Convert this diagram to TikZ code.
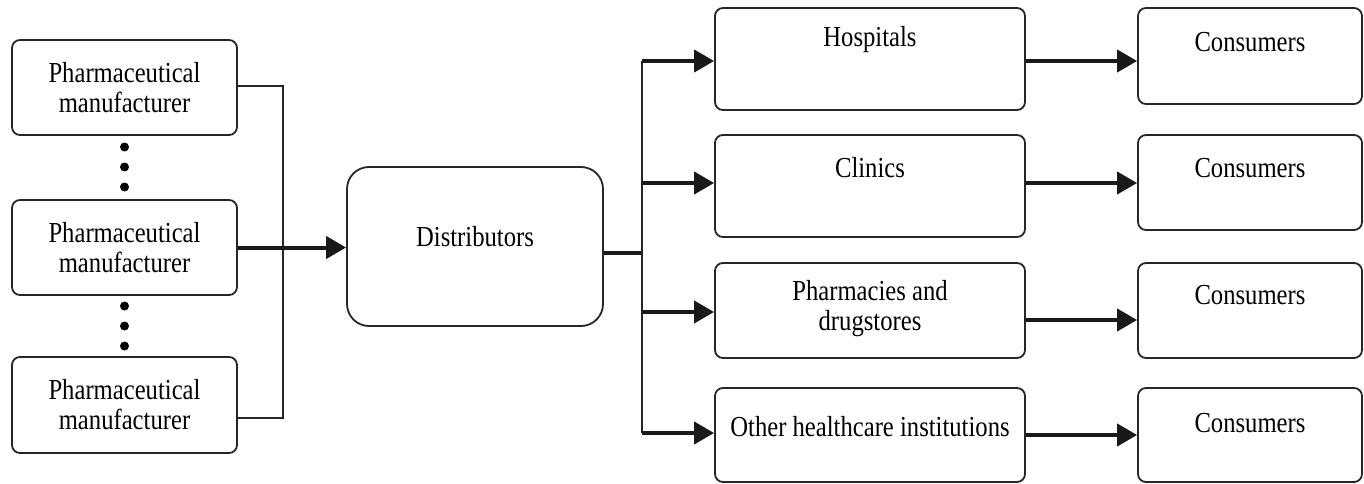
\documentclass[tikz,border=0pt]{standalone}
\usepackage{fontspec}
\setmainfont{Liberation Serif}[FakeStretch=0.85]
\usetikzlibrary{arrows.meta}
\tikzset{
  box/.style={draw=black!85, line width=1.8pt, rounded corners=8pt, inner sep=0pt, align=center},
  bigbox/.style={box, rounded corners=22pt},
  txt/.style={inner sep=0pt, align=center},
  thin/.style={draw=black!85, line width=1.8pt},
  thick/.style={draw=black!90, line width=4pt},
  arr/.style={thick, -{Triangle[length=20pt,width=22pt]}},
  dot/.style={circle, fill=black, inner sep=0pt, minimum size=9pt}
}
\begin{document}
\begin{tikzpicture}[x=1pt, y=-1pt, font=\fontsize{29}{30}\selectfont]
\useasboundingbox (0,0) rectangle (1364,484);
% manufacturers
\node[box, minimum width=225pt, minimum height=95pt] (m1) at (124.5,87.5) {Pharmaceutical\\manufacturer};
\node[box, minimum width=225pt, minimum height=95pt] (m2) at (124.5,247.5) {Pharmaceutical\\manufacturer};
\node[box, minimum width=225pt, minimum height=96pt] (m3) at (124.5,405) {Pharmaceutical\\manufacturer};
% dots
\node[dot] (d1) at (124.5,147) {};
\node[dot] (d2) at (124.5,167) {};
\node[dot] (d3) at (124.5,187) {};
\node[dot] (d4) at (124.5,306) {};
\node[dot] (d5) at (124.5,326) {};
\node[dot] (d6) at (124.5,346) {};
% distributors
\node[bigbox, minimum width=256pt, minimum height=159pt] (dist) at (475,246.5) {};
\node[txt] (distt) at (475,237) {Distributors};
% middle column
\node[box, minimum width=310pt, minimum height=102pt] (hosp) at (870,59) {};
\node[txt] (hospt) at (870,40) {Hospitals};
\node[box, minimum width=310pt, minimum height=102pt] (clin) at (870,186) {};
\node[txt] (clint) at (870,168) {Clinics};
\node[box, minimum width=310pt, minimum height=95pt] (pharm) at (870,310.5) {};
\node[txt] (pharmt) at (870,309) {Pharmacies and\\drugstores};
\node[box, minimum width=310pt, minimum height=94pt] (other) at (870,435) {};
\node[txt] (othert) at (870,427) {Other healthcare institutions};
% consumers
\node[box, minimum width=224pt, minimum height=96pt] (c1) at (1250,56) {};
\node[txt] (c1t) at (1250,42) {Consumers};
\node[box, minimum width=224pt, minimum height=95pt] (c2) at (1250,182.5) {};
\node[txt] (c2t) at (1250,168) {Consumers};
\node[box, minimum width=224pt, minimum height=95pt] (c3) at (1250,310.5) {};
\node[txt] (c3t) at (1250,295) {Consumers};
\node[box, minimum width=224pt, minimum height=94pt] (c4) at (1250,435) {};
\node[txt] (c4t) at (1250,423) {Consumers};
% bracket on the left
\coordinate (bt) at (283,86);
\coordinate (bb) at (283,418);
\draw[thin] (m1.east |- bt) -- (bt) -- (bb) -- (m3.east |- bb);
\draw[arr] (m2.east) -- (m2.east -| dist.west);
% distributor fan-out
\coordinate (j) at (642,253);
\coordinate (b1) at (642,61);
\coordinate (b2) at (642,183);
\coordinate (b3) at (642,312);
\coordinate (b4) at (642,433);
\draw[thick] (dist.east |- j) -- (j);
\draw[thin] (b1) -- (b4);
\draw[arr] (b1) -- (b1 -| hosp.west);
\draw[arr] (b2) -- (b2 -| clin.west);
\draw[arr] (b3) -- (b3 -| pharm.west);
\draw[arr] (b4) -- (b4 -| other.west);
% to consumers
\coordinate (r1) at (1025,61);
\coordinate (r2) at (1025,183);
\coordinate (r3) at (1025,320);
\coordinate (r4) at (1025,435);
\draw[arr] (hosp.east |- r1) -- (c1.west |- r1);
\draw[arr] (clin.east |- r2) -- (c2.west |- r2);
\draw[arr] (pharm.east |- r3) -- (c3.west |- r3);
\draw[arr] (other.east |- r4) -- (c4.west |- r4);
\end{tikzpicture}
\end{document}
